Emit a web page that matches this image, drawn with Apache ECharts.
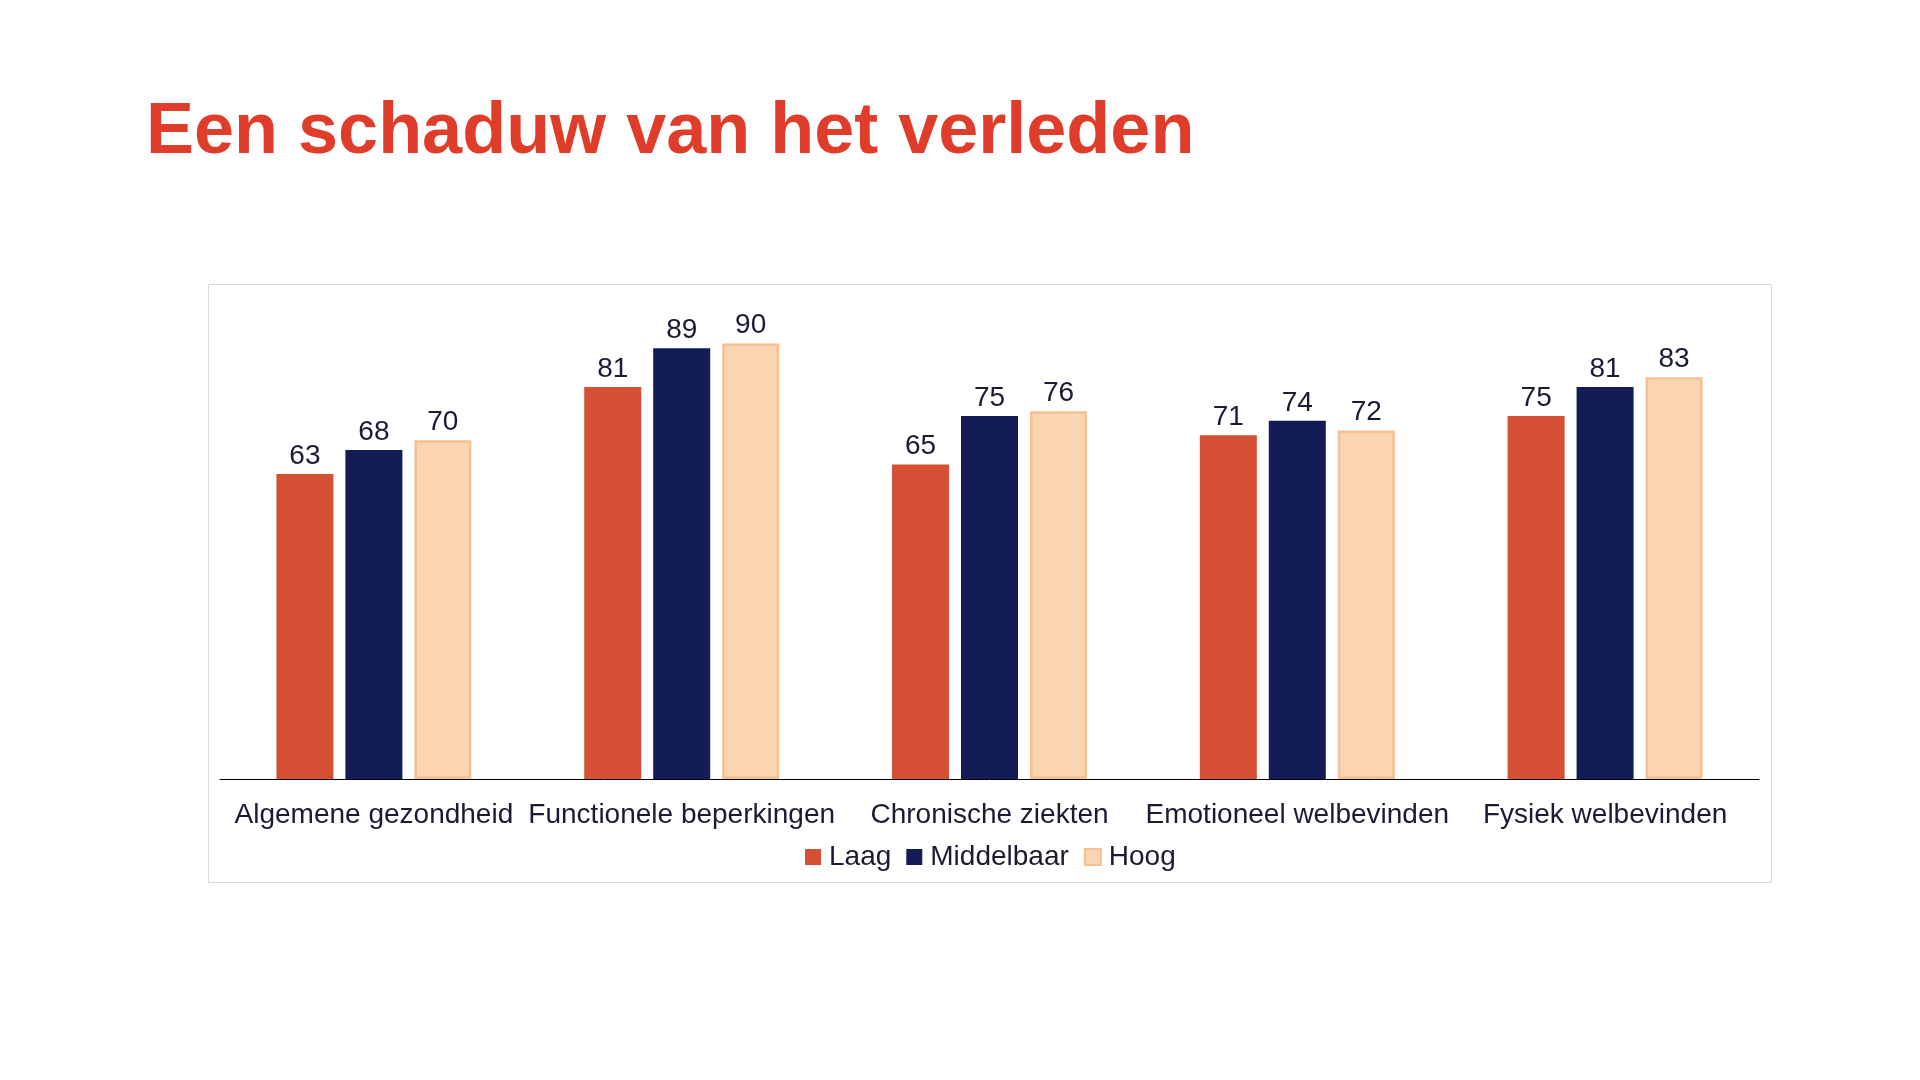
<!DOCTYPE html>
<html>
<head>
<meta charset="utf-8">
<title>Een schaduw van het verleden</title>
<script src="https://cdn.jsdelivr.net/npm/echarts@6/dist/echarts.min.js"></script>
<style>
  html, body { margin: 0; padding: 0; background: #fff; }
  #main { width: 1920px; height: 1080px; }
</style>
</head>
<body>
<div id="main"></div>
<script>
// gegevens uit de grafiek
var categories = ['Algemene gezondheid', 'Functionele beperkingen', 'Chronische ziekten', 'Emotioneel welbevinden', 'Fysiek welbevinden'];
var seriesNames = ['Laag', 'Middelbaar', 'Hoog'];
var laag = [63, 81, 65, 71, 75];
var middelbaar = [68, 89, 75, 74, 81];
var hoog = [70, 90, 76, 72, 83];

var textColor = '#1e1a33';
var fontFam = '"Liberation Sans", Arial, sans-serif';

var myChart = echarts.init(document.getElementById('main'));

function barLabel() {
    return {
        show: true,
        position: 'top',
        distance: 4,
        color: textColor,
        fontSize: 28,
        fontFamily: fontFam
    };
}

var option = {
    backgroundColor: '#ffffff',
    animation: false,
    title: {
        text: 'Een schaduw van het verleden',
        left: 146,
        top: 97,
        padding: 0,
        textStyle: {
            color: '#E03C2A',
            fontSize: 72,
            fontWeight: 'bold',
            fontFamily: fontFam
        }
    },
    // kader rond de grafiek
    graphic: [{
        type: 'rect',
        silent: true,
        z: -1,
        shape: { x: 208.5, y: 284.5, width: 1563, height: 598 },
        style: { fill: '#ffffff', stroke: '#d9d9d9', lineWidth: 1 }
    }],
    legend: {
        data: seriesNames,
        left: 800,
        top: 838,
        itemWidth: 16,
        itemHeight: 16,
        itemGap: 15,
        icon: 'rect',
        textStyle: { color: textColor, fontSize: 28, fontFamily: fontFam, padding: [0, 0, 0, 3] }
    },
    grid: {
        left: 220,
        right: 161,
        top: 295,
        bottom: 301
    },
    xAxis: {
        type: 'category',
        data: categories,
        axisLine: { lineStyle: { color: '#000000', width: 1 } },
        axisTick: { show: false },
        axisLabel: {
            color: textColor,
            fontSize: 28,
            fontFamily: fontFam,
            margin: 22,
            interval: 0
        }
    },
    yAxis: {
        type: 'value',
        min: 0,
        max: 100,
        show: false,
        splitLine: { show: false }
    },
    series: [{
        name: 'Laag',
        type: 'bar',
        data: laag,
        barWidth: 57,
        barGap: '21%',
        itemStyle: { color: '#D44F33' },
        label: barLabel()
    }, {
        name: 'Middelbaar',
        type: 'bar',
        data: middelbaar,
        barWidth: 57,
        barGap: '21%',
        itemStyle: { color: '#131C56' },
        label: barLabel()
    }, {
        name: 'Hoog',
        type: 'bar',
        data: hoog,
        barWidth: 57,
        barGap: '21%',
        itemStyle: { color: '#FBD5B2', borderColor: '#F5C092', borderWidth: 2.5 },
        label: barLabel()
    }]
};

myChart.setOption(option);

window.addEventListener('resize', function () {
    myChart.resize();
});
</script>
</body>
</html>
